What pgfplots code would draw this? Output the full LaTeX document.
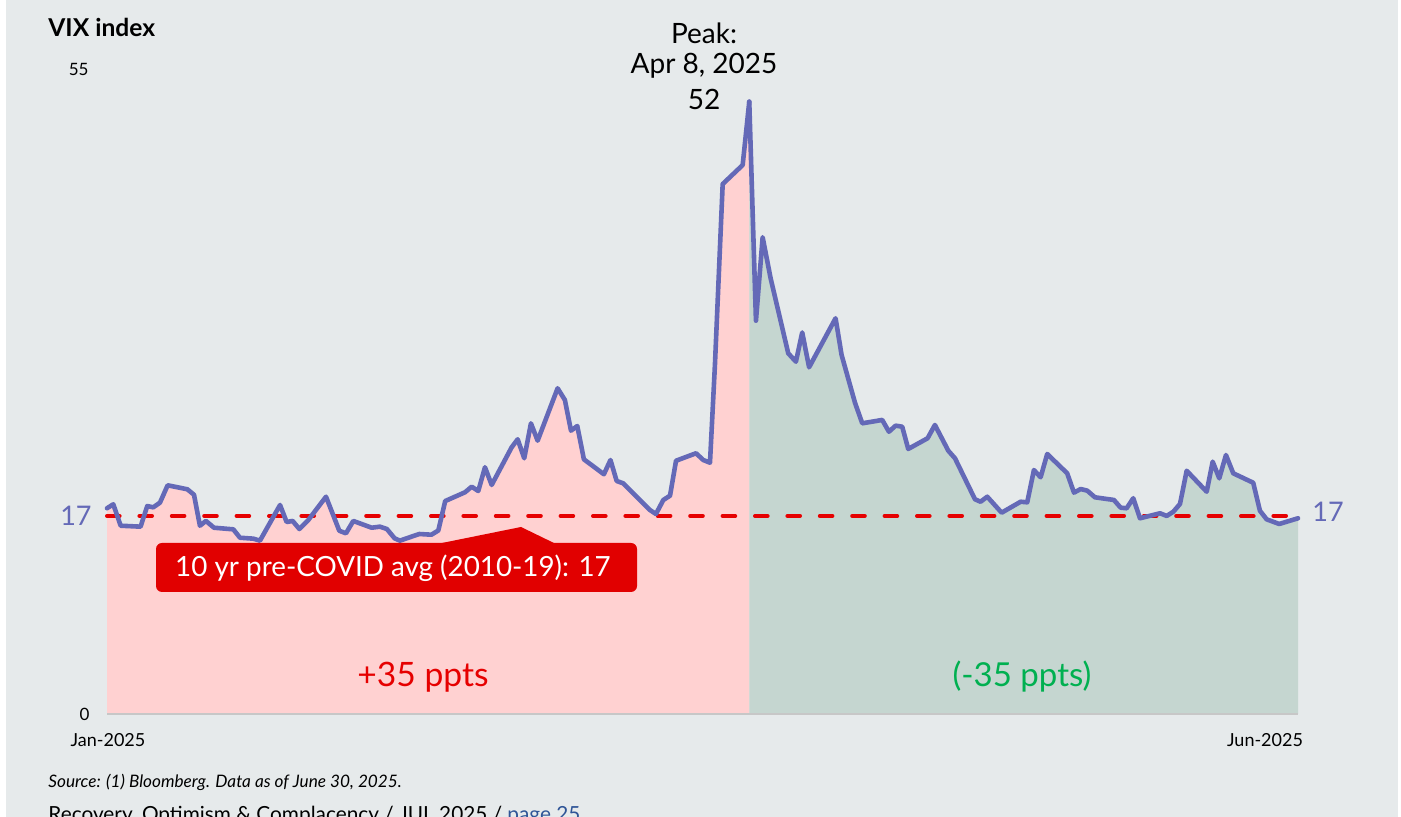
\documentclass[border=0pt]{standalone}
\usepackage{fontspec}
\setmainfont{Lato}
\usepackage{pgfplots}
\pgfplotsset{compat=1.18}
\usepackage{pgfplotstable}

\definecolor{bgc}{HTML}{E6EAEB}
\definecolor{pinkfill}{HTML}{FFD1D1}
\definecolor{greenfill}{HTML}{C5D6D0}
\definecolor{vix}{HTML}{6469B7}
\definecolor{avgred}{HTML}{E60000}
\definecolor{boxred}{HTML}{E10000}
\definecolor{upred}{HTML}{E60000}
\definecolor{downgreen}{HTML}{00B050}
\definecolor{linkblue}{HTML}{2F5597}

% trading-day index (Jan 2 = 0, Jun 30 = 121) and VIX close
\pgfplotstableread{
x y
0 17.66
0.64 18.00
1.39 16.16
3.41 16.08
4.09 17.85
4.70 17.74
5.38 18.14
6.16 19.63
8.16 19.29
8.84 18.82
9.44 16.16
10.05 16.57
10.87 15.99
12.83 15.85
13.51 15.13
14.86 15.05
15.54 14.88
17.58 17.94
18.25 16.48
18.86 16.57
19.54 15.88
20.45 16.65
22.25 18.65
23.60 15.73
24.28 15.51
25.02 16.57
26.89 15.99
27.73 16.08
28.43 15.88
29.22 15.08
29.76 14.88
31.72 15.45
32.96 15.39
33.66 15.75
34.36 18.28
36.37 19.03
37.05 19.51
37.72 19.14
38.40 21.18
39.08 19.66
41.11 22.89
41.72 23.58
42.39 21.95
43.07 24.95
43.75 23.46
45.78 27.96
46.52 26.95
47.14 24.32
47.78 24.72
48.45 21.86
50.48 20.58
51.15 21.80
51.78 20.00
52.45 19.80
55.16 17.51
55.77 17.17
56.52 18.37
57.20 18.74
57.81 21.74
59.84 22.38
60.58 21.80
61.26 21.57
61.77 30.10
62.55 45.49
64.58 47.12
65.25 52.56
}\vixleft

\pgfplotstableread{
x y
65.25 52.56
65.93 33.76
66.61 40.92
67.42 37.40
69.21 30.96
69.99 30.24
70.63 32.75
71.33 29.76
74.02 33.97
74.63 30.82
75.99 26.72
76.73 24.95
78.76 25.24
79.44 24.23
80.12 24.75
80.79 24.66
81.40 22.75
83.37 23.67
84.11 24.81
85.47 22.60
86.15 21.95
88.18 18.43
88.75 18.22
89.43 18.65
90.89 17.28
92.82 18.22
93.49 18.17
94.17 20.94
94.85 20.32
95.52 22.32
97.55 20.66
98.24 19.00
98.92 19.31
99.59 19.17
100.37 18.60
102.30 18.37
102.98 17.71
103.59 17.66
104.26 18.52
104.94 16.80
106.98 17.23
107.66 17.00
108.33 17.36
109.01 18.03
109.69 20.88
111.72 19.08
112.33 21.66
113.00 20.23
113.68 22.23
114.42 20.66
116.45 19.85
117.13 17.45
117.81 16.71
119.09 16.31
121 16.80
}\vixright

\begin{document}
\begin{tikzpicture}[x=1pt,y=1pt, every node/.style={inner sep=0pt}]
\useasboundingbox (0,0) rectangle (700.5,408.5);
\clip (0,0) rectangle (700.5,408.5);
\fill[white] (0,0) rectangle (700.5,408.5);
\fill[bgc] (3,0) rectangle (699,408.5);

\begin{axis}[
    at={(53.5pt,51.5pt)}, anchor=south west,
    scale only axis,
    width=595.5pt, height=320.375pt,
    xmin=0, xmax=121, ymin=0, ymax=55,
    axis lines=none,
    clip=false,
]
  \addplot[fill=pinkfill, draw=none] table[x=x,y=y] {\vixleft} \closedcycle;
  \addplot[fill=greenfill, draw=none] table[x=x,y=y] {\vixright} \closedcycle;
  \addplot[black!22, line width=1pt] coordinates {(0,0) (121,0)};
  \addplot[avgred, line width=2pt, line cap=round,
           dash pattern=on 6.3pt off 9.9pt] coordinates {(0,17) (121,17)};
  \addplot[vix, line width=2.3pt, line join=round, line cap=round] table[x=x,y=y] {\vixleft};
  \addplot[vix, line width=2.3pt, line join=round, line cap=round] table[x=x,y=y] {\vixright};
\end{axis}

% callout
\fill[boxred, rounded corners=3pt] (78,112.5) rectangle (318.5,137);
\fill[boxred] (218.5,136.5) -- (260.5,145) -- (278,136.5) -- cycle;
\node[white, font=\fontsize{13.9}{16}\selectfont] at (196.5,124.5) {10 yr pre-COVID avg (2010-19): 17};

% axis texts
\node[anchor=west, font=\fontsize{12.3}{14}\selectfont\bfseries] at (24,395) {VIX index};
\node[anchor=east, font=\fontsize{8.5}{10}\selectfont] at (44.5,374) {55};
\node[anchor=east, font=\fontsize{8.5}{10}\selectfont] at (45,51.5) {0};
\node[font=\fontsize{9}{11}\selectfont] at (54,38.5) {Jan-2025};
\node[font=\fontsize{9}{11}\selectfont] at (632.5,38.5) {Jun-2025};
\node[anchor=east, vix, font=\fontsize{13.5}{16}\selectfont] at (46,150.5) {17};
\node[anchor=west, vix, font=\fontsize{13.5}{16}\selectfont] at (656,152.5) {17};

% peak annotation
\node[font=\fontsize{14}{16}\selectfont] at (352,392) {Peak:};
\node[font=\fontsize{14}{16}\selectfont] at (352,375.5) {Apr 8, 2025};
\node[font=\fontsize{14}{16}\selectfont] at (352,359) {52};

\node[upred, font=\fontsize{16.8}{19}\selectfont] at (211.5,70) {+35 ppts};
\node[downgreen, font=\fontsize{16.5}{19}\selectfont] at (511,70) {(-35 ppts)};

% footer
\node[anchor=west, font=\fontsize{8.6}{10}\selectfont\itshape] at (24,17.5) {Source: (1) Bloomberg. Data as of June 30, 2025.};
\node[anchor=base west, font=\fontsize{10.4}{12}\selectfont] at (24,-2.5) {Recovery, Optimism \& Complacency / JUL 2025 / \textcolor{linkblue}{page 25}};
\end{tikzpicture}
\end{document}
